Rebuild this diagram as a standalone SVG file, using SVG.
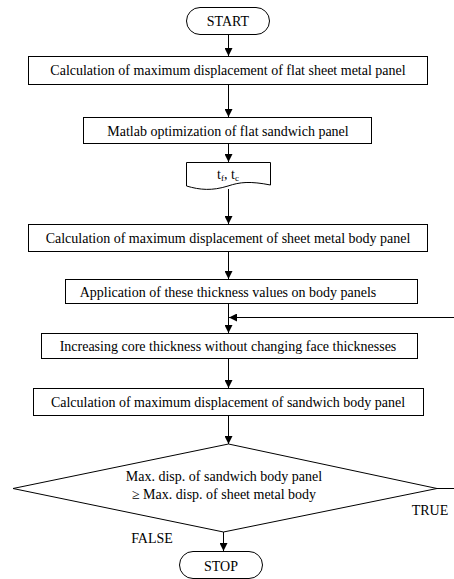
<svg xmlns="http://www.w3.org/2000/svg" width="454" height="579" viewBox="0 0 454 579">
<defs>
<marker id="ah" viewBox="0 0 8 8" refX="8" refY="4" markerWidth="8" markerHeight="8" markerUnits="userSpaceOnUse" orient="auto">
<path d="M0,0 L8,4 L0,8 Z" fill="#000"/>
</marker>
<style>
.n{fill:#fff;stroke:#000;stroke-width:1}
.t{font-family:'Liberation Serif','Times New Roman',serif;font-size:14px;fill:#000;text-anchor:middle}
.c{fill:none;stroke:#000;stroke-width:1}
</style>
</defs>
<rect width="454" height="579" fill="#fff"/>
<g id="connectors">
<line class="c" x1="228.5" y1="35" x2="228.5" y2="56" marker-end="url(#ah)"/>
<line class="c" x1="228.5" y1="85" x2="228.5" y2="117" marker-end="url(#ah)"/>
<line class="c" x1="228.5" y1="144" x2="228.5" y2="162" marker-end="url(#ah)"/>
<line class="c" x1="228.5" y1="189" x2="228.5" y2="224" marker-end="url(#ah)"/>
<line class="c" x1="228.5" y1="251" x2="228.5" y2="279" marker-end="url(#ah)"/>
<line class="c" x1="228.5" y1="303" x2="228.5" y2="333" marker-end="url(#ah)"/>
<line class="c" x1="454" y1="317.5" x2="229" y2="317.5" marker-end="url(#ah)"/>
<line class="c" x1="228.5" y1="358" x2="228.5" y2="388" marker-end="url(#ah)"/>
<line class="c" x1="228.5" y1="415" x2="228.5" y2="444" marker-end="url(#ah)"/>
<line class="c" x1="437" y1="488.5" x2="454" y2="488.5"/>
<line class="c" x1="223.5" y1="532" x2="223.5" y2="551" marker-end="url(#ah)"/>
<text class="t" x="430" y="515" font-family="Liberation Serif, serif">TRUE</text>
<text class="t" x="152" y="543" font-family="Liberation Serif, serif">FALSE</text>
</g>
<g id="start">
<rect class="n" x="186.5" y="7.5" width="83" height="27" rx="13.5"/>
<text class="t" x="228" y="26" font-family="Liberation Serif, serif">START</text>
</g>
<g id="calc-flat">
<rect class="n" x="28.5" y="56.5" width="399" height="28"/>
<text class="t" x="228" y="75" font-family="Liberation Serif, serif">Calculation of maximum displacement of flat sheet metal panel</text>
</g>
<g id="matlab">
<rect class="n" x="83.5" y="117.5" width="288" height="26"/>
<text class="t" x="228" y="135.5" font-family="Liberation Serif, serif">Matlab optimization of flat sandwich panel</text>
</g>
<g id="tf-tc">
<path class="n" d="M186.5,162.5 H270.5 V185 C250,181 240,182 228,186 C212,191 200,190 186.5,186 Z"/>
<text class="t" x="228" y="179" font-family="Liberation Serif, serif">t<tspan font-size="9" dy="2">f</tspan><tspan dy="-2">, t</tspan><tspan font-size="9" dy="2">c</tspan></text>
</g>
<g id="calc-sheet-body">
<rect class="n" x="28.5" y="224.5" width="399" height="27"/>
<text class="t" x="228" y="242.5" font-family="Liberation Serif, serif">Calculation of maximum displacement of sheet metal body panel</text>
</g>
<g id="apply">
<rect class="n" x="65.5" y="279.5" width="352" height="24"/>
<text class="t" x="228" y="296.5" font-family="Liberation Serif, serif">Application of these thickness values on body panels</text>
</g>
<g id="increase">
<rect class="n" x="41.5" y="333.5" width="376" height="25"/>
<text class="t" x="228" y="351" font-family="Liberation Serif, serif">Increasing core thickness without changing face thicknesses</text>
</g>
<g id="calc-sandwich">
<rect class="n" x="33.5" y="388.5" width="390" height="27"/>
<text class="t" x="228" y="406.5" font-family="Liberation Serif, serif">Calculation of maximum displacement of sandwich body panel</text>
</g>
<g id="decision">
<polygon class="n" points="228.5,444 437,488.5 223.5,532 13,488.5"/>
<text class="t" x="224" y="481" font-family="Liberation Serif, serif">Max. disp. of sandwich body panel</text>
<text class="t" x="224" y="499" font-family="Liberation Serif, serif">≥ Max. disp. of sheet metal body</text>
</g>
<g id="stop">
<rect class="n" x="179.5" y="551.5" width="83" height="27" rx="13.5"/>
<text class="t" x="221" y="570.5" font-family="Liberation Serif, serif">STOP</text>
</g>
</svg>
